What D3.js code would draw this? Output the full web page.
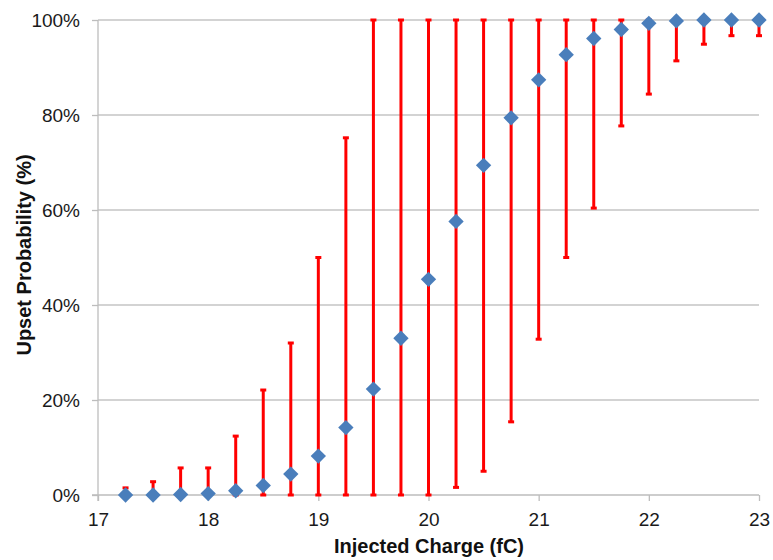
<!DOCTYPE html>
<html>
<head>
<meta charset="utf-8">
<script src="https://cdn.jsdelivr.net/npm/d3@7"></script>
<style>
  body { margin: 0; background: #fff; }
  svg { display: block; font-family: Arial, "Liberation Sans", sans-serif; }
  .grid line { stroke: #c4c4c4; stroke-width: 1.3; }
  .axis path, .axis line { stroke: #bdbdbd; stroke-width: 1.3; }
  .axis text { fill: #1a1a1a; font-size: 19px; }
</style>
</head>
<body>
<svg id="chart"></svg>
<script>
// Injected charge (fC), upset probability (%), error bar bounds (%)
const charge = [17.25, 17.5, 17.75, 18, 18.25, 18.5, 18.75, 19, 19.25, 19.5, 19.75, 20,
                20.25, 20.5, 20.75, 21, 21.25, 21.5, 21.75, 22, 22.25, 22.5, 22.75, 23]
const prob =   [0, 0, 0.1, 0.3, 0.9, 2.0, 4.4, 8.2, 14.2, 22.3, 33.0, 45.4,
                57.6, 69.4, 79.4, 87.4, 92.7, 96.1, 98.0, 99.3, 99.8, 100, 100, 100]
const upper =  [1.5, 2.8, 5.7, 5.7, 12.4, 22.1, 32.0, 50.0, 75.2, 100, 100, 100,
                100, 100, 100, 100, 100, 100, 100, 100, 100, 100, 100, 100]
const lower =  [0, 0, 0, 0, 0, 0, 0, 0, 0, 0, 0, 0,
                1.6, 5.0, 15.4, 32.8, 50.0, 60.4, 77.7, 84.4, 91.4, 94.9, 96.7, 96.7]
const xTicks = [17, 18, 19, 20, 21, 22, 23]
const yTicks = [0, 20, 40, 60, 80, 100]

const fullWidth = 773
const fullHeight = 560
const margin = { top: 20, right: 14, bottom: 65, left: 98 }
const width = fullWidth - margin.left - margin.right
const height = fullHeight - margin.top - margin.bottom

const data = charge.map((c, i) => ({ c, p: prob[i], hi: upper[i], lo: lower[i] }))

const svg = d3.select('#chart')
  .attr('width', fullWidth)
  .attr('height', fullHeight)

const g = svg.append('g')
  .attr('transform', `translate(${margin.left}, ${margin.top})`)

const x = d3.scaleLinear().domain([17, 23]).range([0, width])
const y = d3.scaleLinear().domain([0, 100]).range([height, 0])

// gridlines
g.append('g')
  .attr('class', 'grid')
  .selectAll('line')
  .data(yTicks.filter(t => t > 0))
  .enter()
  .append('line')
    .attr('x1', 0)
    .attr('x2', width)
    .attr('y1', d => y(d))
    .attr('y2', d => y(d))

// axes
const xAxis = g.append('g')
  .attr('class', 'axis')
  .attr('transform', `translate(0, ${height})`)
  .call(d3.axisBottom(x).tickValues(xTicks).tickFormat(d3.format('d')).tickSize(6).tickSizeOuter(0).tickPadding(12))
xAxis.select('.domain').attr('d', `M-6,0H${width}`)

const yAxis = g.append('g')
  .attr('class', 'axis')
  .call(d3.axisLeft(y).tickValues(yTicks).tickFormat(d => d + '%').tickSize(6).tickSizeOuter(0).tickPadding(12))
yAxis.select('.domain').attr('d', `M0,${height + 6}V0`)
yAxis.selectAll('text').attr('dy', '0.36em')

// error bars
const bars = g.append('g')
  .selectAll('g')
  .data(data)
  .enter()
  .append('g')
    .attr('stroke', '#ff0000')

bars.append('line')
  .attr('x1', d => x(d.c))
  .attr('x2', d => x(d.c))
  .attr('y1', d => y(d.lo))
  .attr('y2', d => y(d.hi))
  .attr('stroke-width', 3)

bars.selectAll('.cap')
  .data(d => [d.lo, d.hi].map(v => ({ c: d.c, v })))
  .enter()
  .append('line')
    .attr('class', 'cap')
    .attr('x1', d => x(d.c) - 3)
    .attr('x2', d => x(d.c) + 3)
    .attr('y1', d => y(d.v))
    .attr('y2', d => y(d.v))
    .attr('stroke-width', 3)

// markers
g.append('g')
  .selectAll('path')
  .data(data)
  .enter()
  .append('path')
    .attr('d', d3.symbol(d3.symbolDiamond2, 150))
    .attr('transform', d => `translate(${x(d.c)}, ${y(d.p)})`)
    .attr('fill', '#4a7ebb')

// axis titles
svg.append('text')
  .attr('x', 429)
  .attr('y', 553)
  .attr('text-anchor', 'middle')
  .attr('font-size', '20px')
  .attr('font-weight', 'bold')
  .attr('fill', '#111')
  .text('Injected Charge (fC)')

svg.append('text')
  .attr('transform', `translate(31, 255) rotate(-90)`)
  .attr('text-anchor', 'middle')
  .attr('font-size', '20px')
  .attr('font-weight', 'bold')
  .attr('fill', '#111')
  .text('Upset Probability (%)')
</script>
</body>
</html>
